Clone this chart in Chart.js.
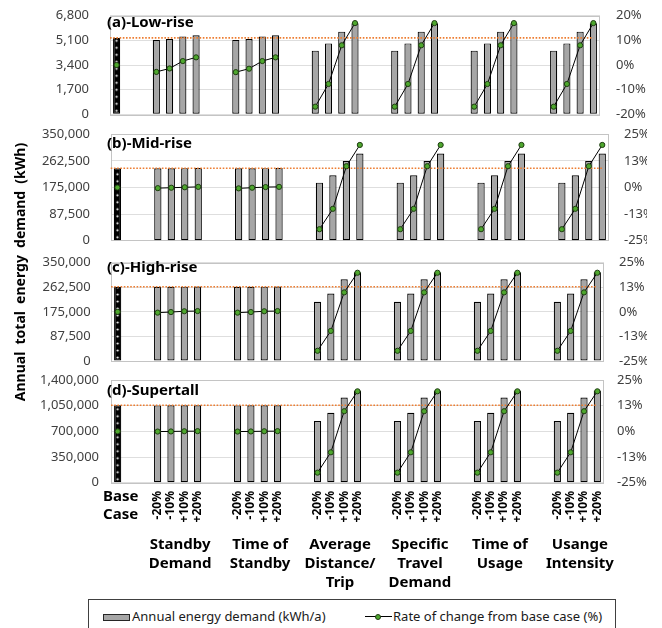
<!DOCTYPE html>
<html>
<head>
<meta charset="utf-8">
<script src="https://cdn.jsdelivr.net/npm/chart.js@4/dist/chart.umd.min.js"></script>
<style>
  body { margin: 0; background: #fff; width: 662px; height: 628px; overflow: hidden; position: relative; font-family: "Noto Sans", sans-serif; }
  canvas { position: absolute; left: 0; }
  #ytitle { position: absolute; left: -130px; top: 262px; width: 300px; height: 20px; line-height: 20px; text-align: center;
            font: bold 14px "Noto Sans", sans-serif; word-spacing: 3.5px; color: #000; transform: rotate(-90deg); white-space: nowrap; }
  #legend { position: absolute; left: 88px; top: 599px; width: 528px; height: 40px; border: 1px solid #404040; box-sizing: border-box; background: #fff;
            font: 13px "Noto Sans", sans-serif; color: #1a1a1a; }
  #legend .txt { position: absolute; top: 7px; line-height: 18px; white-space: nowrap; }
  #legend .box { position: absolute; left: 14px; top: 14px; width: 27px; height: 7px; background: #a6a6a6; border: 1px solid #262626; box-sizing: border-box; }
  #legend .ln { position: absolute; left: 276px; top: 16px; width: 27px; height: 1px; background: #000; }
  #legend .dot { position: absolute; left: 286px; top: 13.5px; width: 6px; height: 6px; border-radius: 50%; background: #4ea72e; border: 1px solid #1f3d12; box-sizing: border-box; }
</style>
</head>
<body>
<canvas id="cA" width="662" height="125" style="top:0px"></canvas>
<canvas id="cB" width="647" height="125" style="top:125px"></canvas>
<canvas id="cC" width="647" height="122" style="top:250px"></canvas>
<canvas id="cD" width="662" height="256" style="top:372px"></canvas>
<div id="ytitle">Annual total energy demand (kWh)</div>
<div id="legend">
  <div class="box"></div><div class="txt" style="left:43px">Annual energy demand (kWh/a)</div>
  <div class="ln"></div><div class="dot"></div><div class="txt" style="left:304px">Rate of change from base case (%)</div>
</div>
<script>
// ---- categories ----
const stepLabels = ['-20%', '-10%', '+10%', '+20%'];
const groupNames = [
  ['Standby', 'Demand'],
  ['Time of', 'Standby'],
  ['Average', 'Distance/', 'Trip'],
  ['Specific', 'Travel', 'Demand'],
  ['Time of', 'Usage'],
  ['Usange', 'Intensity']
];
const baseLabel = ['Base', 'Case'];

// ---- annual energy demand (kWh/a): base case and the four variations per parameter ----
const lowRiseBase = 5270;
const lowRiseDemand = [
  [5130, 5190, 5370, 5450],
  [5130, 5190, 5370, 5450],
  [4390, 4890, 5700, 6280],
  [4390, 4890, 5700, 6280],
  [4390, 4890, 5700, 6280],
  [4390, 4890, 5700, 6280]
];
const lowRiseRate = [
  [-2.8, -1.4, 1.6, 3.1],
  [-2.9, -1.5, 1.6, 3.1],
  [-16.9, -7.7, 8.0, 17.0],
  [-16.9, -7.7, 8.0, 17.0],
  [-16.9, -7.7, 8.0, 17.0],
  [-16.9, -7.7, 8.0, 17.0]
];

const midRiseBase = 238500;
const midRiseDemand = [
  [238000, 238300, 238700, 239000],
  [238000, 238300, 238700, 239000],
  [191000, 215000, 262000, 286500],
  [191000, 215000, 262000, 286500],
  [191000, 215000, 262000, 286500],
  [191000, 215000, 262000, 286500]
];
const midRiseRate = [
  [-0.3, -0.1, 0.1, 0.3],
  [-0.4, -0.1, 0.2, 0.3],
  [-19.6, -10.0, 10.0, 20.0],
  [-19.6, -10.0, 10.0, 20.0],
  [-19.6, -10.0, 10.0, 20.0],
  [-19.6, -10.0, 10.0, 20.0]
];

const highRiseBase = 264500;
const highRiseDemand = [
  [264000, 264300, 264800, 265000],
  [264000, 264300, 264800, 265000],
  [211000, 240000, 291000, 316000],
  [211000, 240000, 291000, 316000],
  [211000, 240000, 291000, 316000],
  [211000, 240000, 291000, 316000]
];
const highRiseRate = [
  [-0.4, -0.1, 0.3, 0.4],
  [-0.4, -0.1, 0.3, 0.4],
  [-19.8, -9.7, 9.9, 19.9],
  [-19.8, -9.7, 9.9, 19.9],
  [-19.8, -9.7, 9.9, 19.9],
  [-19.8, -9.7, 9.9, 19.9]
];

const supertallBase = 1055000;
const supertallDemand = [
  [1054000, 1054500, 1055500, 1056000],
  [1054000, 1054500, 1055500, 1056000],
  [841000, 952000, 1162000, 1256000],
  [841000, 952000, 1162000, 1256000],
  [841000, 952000, 1162000, 1256000],
  [841000, 952000, 1162000, 1256000]
];
const supertallRate = [
  [-0.1, -0.05, 0.05, 0.1],
  [-0.1, -0.05, 0.05, 0.1],
  [-20.1, -10.2, 9.8, 19.5],
  [-20.1, -10.2, 9.8, 19.5],
  [-20.1, -10.2, 9.8, 19.5],
  [-20.1, -10.2, 9.8, 19.5]
];
const baseRate = 0;

// ---- axis ranges ----
const demandMax = [6800, 350000, 350000, 1400000];
const rateMax = [20, 25, 25, 25];
const panelTitles = ['(a)-Low-rise', '(b)-Mid-rise', '(c)-High-rise', '(d)-Supertall'];

// category slots: base, two spacers, then 4 bars per parameter with two spacers between groups
const xLabels = [''];
const groupStart = [];
groupNames.forEach(() => {
  xLabels.push('', '');
  groupStart.push(xLabels.length);
  stepLabels.forEach(s => xLabels.push(s));
});

function slotSeries(base, groups) {
  const out = [base];
  groups.forEach(g => { out.push(null, null); g.forEach(v => out.push(v)); });
  return out;
}

const FONT = '"Noto Sans", sans-serif';
const layouts = [
  { id: 'cA', top: 0,   left: 110,   right: 600, plotTop: 15.7,  plotBottom: 114.3, lPad: 21,   rPad: 16, titleY: 23 },
  { id: 'cB', top: 125, left: 110.7, right: 609, plotTop: 134.3, plotBottom: 240.7, lPad: 20.7, rPad: 15, titleY: 143.3 },
  { id: 'cC', top: 250, left: 111,   right: 604, plotTop: 262.7, plotBottom: 361,   lPad: 20.3, rPad: 15, titleY: 267.3 },
  { id: 'cD', top: 372, left: 111,   right: 604, plotTop: 380,   plotBottom: 482.7, lPad: 12,   rPad: 13, titleY: 390.7 }
];
const series = [
  { base: lowRiseBase, demand: lowRiseDemand, rate: lowRiseRate },
  { base: midRiseBase, demand: midRiseDemand, rate: midRiseRate },
  { base: highRiseBase, demand: highRiseDemand, rate: highRiseRate },
  { base: supertallBase, demand: supertallDemand, rate: supertallRate }
];

function dottedPattern(ctx) {
  const pc = document.createElement('canvas');
  pc.width = 7; pc.height = 7;
  const g = pc.getContext('2d');
  g.fillStyle = '#000'; g.fillRect(0, 0, 7, 7);
  g.fillStyle = '#fff'; g.beginPath(); g.arc(3.5, 3.5, 1.1, 0, Math.PI * 2); g.fill();
  return ctx.createPattern(pc, 'repeat');
}

function roundPct(v) {
  const r = Math.sign(v) * Math.round(Math.abs(v));
  return (r === 0 ? 0 : r) + '%';
}

layouts.forEach((L, p) => {
  const canvas = document.getElementById(L.id);
  const ctx = canvas.getContext('2d');
  const W = canvas.width, H = canvas.height;
  const pattern = dottedPattern(ctx);
  const s = series[p];
  const isLast = p === layouts.length - 1;

  const panelPlugin = {
    id: 'panel' + p,
    beforeDatasetsDraw(chart) {
      const a = chart.chartArea, c = chart.ctx;
      c.save();
      c.strokeStyle = '#c4c4c4'; c.lineWidth = 1;
      c.strokeRect(Math.round(a.left) + 0.5, Math.round(a.top) + 0.5, Math.round(a.right - a.left) - 1, Math.round(a.bottom - a.top));
      c.restore();
      const bx = chart.scales.x.getPixelForValue(0);
      pattern.setTransform(new DOMMatrix([1, 0, 0, 1, bx - 3.5, a.bottom]));
    },
    afterDatasetDraw(chart, args) {
      if (args.meta.type !== 'bar') return;
      // reference line at the base-case demand
      const c = chart.ctx, a = chart.chartArea;
      const y = chart.scales.y.getPixelForValue(s.base);
      const xEnd = chart.scales.x.getPixelForValue(xLabels.length - 1);
      c.save();
      c.strokeStyle = '#ed7d31'; c.lineWidth = 1.6; c.setLineDash([1.6, 1.6]);
      c.beginPath(); c.moveTo(a.left, y); c.lineTo(xEnd, y); c.stroke();
      c.restore();
    },
    afterDraw(chart) {
      const c = chart.ctx;
      c.save();
      c.fillStyle = '#000';
      c.font = 'bold 15px ' + FONT;
      c.textAlign = 'left'; c.textBaseline = 'middle';
      c.fillText(panelTitles[p], 107, L.titleY - L.top);
      if (isLast) {
        const xs = chart.scales.x;
        // variation labels, rotated
        c.font = 'bold 12px ' + FONT;
        xLabels.forEach((t, i) => {
          if (!t) return;
          c.save();
          c.translate(xs.getPixelForValue(i), 491 - L.top);
          c.rotate(-Math.PI / 2);
          c.textAlign = 'right'; c.textBaseline = 'middle';
          c.fillText(t, 0, 0);
          c.restore();
        });
        // base case label
        c.font = 'bold 15px ' + FONT;
        c.textAlign = 'center'; c.textBaseline = 'middle';
        const bx = xs.getPixelForValue(0) + 3;
        baseLabel.forEach((t, k) => c.fillText(t, bx, 496.7 - L.top + k * 18.5));
        // parameter group names
        groupNames.forEach((lines, gi) => {
          const i0 = groupStart[gi];
          const gx = (xs.getPixelForValue(i0) + xs.getPixelForValue(i0 + 3)) / 2 + 2.5;
          lines.forEach((t, k) => c.fillText(t, gx, 545 - L.top + k * 19));
        });
      }
      c.restore();
    }
  };

  new Chart(ctx, {
    data: {
      labels: xLabels,
      datasets: [
        {
          type: 'line',
          label: 'Rate of change from base case (%)',
          data: slotSeries(baseRate, s.rate),
          yAxisID: 'y1',
          order: 0,
          borderColor: '#000',
          borderWidth: 1,
          spanGaps: false,
          pointRadius: 2.6,
          pointBorderWidth: 1,
          pointBackgroundColor: '#4ea72e',
          pointBorderColor: '#1f3d12',
          tension: 0
        },
        {
          type: 'bar',
          label: 'Annual energy demand (kWh/a)',
          data: slotSeries(s.base, s.demand),
          yAxisID: 'y',
          order: 1,
          backgroundColor: c => (c.dataIndex === 0 ? pattern : '#a6a6a6'),
          borderColor: '#000',
          borderWidth: 1.2,
          borderSkipped: false,
          categoryPercentage: 1,
          barPercentage: 0.54
        }
      ]
    },
    options: {
      responsive: false,
      animation: false,
      devicePixelRatio: 1,
      layout: { autoPadding: false, padding: { top: L.plotTop - L.top, bottom: H - (L.plotBottom - L.top), left: 0, right: 0 } },
      plugins: { legend: { display: false }, tooltip: { enabled: false } },
      scales: {
        x: { type: 'category', display: false, offset: true },
        y: {
          position: 'left', min: 0, max: demandMax[p],
          ticks: { stepSize: demandMax[p] / 4, padding: 0, color: '#404040', font: { family: FONT, size: 13 },
                   callback: v => Number(v).toLocaleString('en-US') },
          grid: { color: '#dedede', drawTicks: true, tickLength: L.lPad, tickColor: 'rgba(0,0,0,0)' },
          border: { display: false },
          afterFit(sc) { sc.width = L.left; }
        },
        y1: {
          position: 'right', min: -rateMax[p], max: rateMax[p],
          ticks: { stepSize: rateMax[p] / 2, padding: 0, color: '#404040', font: { family: FONT, size: 13 },
                   callback: v => roundPct(v) },
          grid: { display: true, drawOnChartArea: false, drawTicks: true, tickLength: L.rPad, tickColor: 'rgba(0,0,0,0)' },
          border: { display: false },
          afterFit(sc) { sc.width = W - L.right; }
        }
      }
    },
    plugins: [panelPlugin]
  });
});
</script>
</body>
</html>
